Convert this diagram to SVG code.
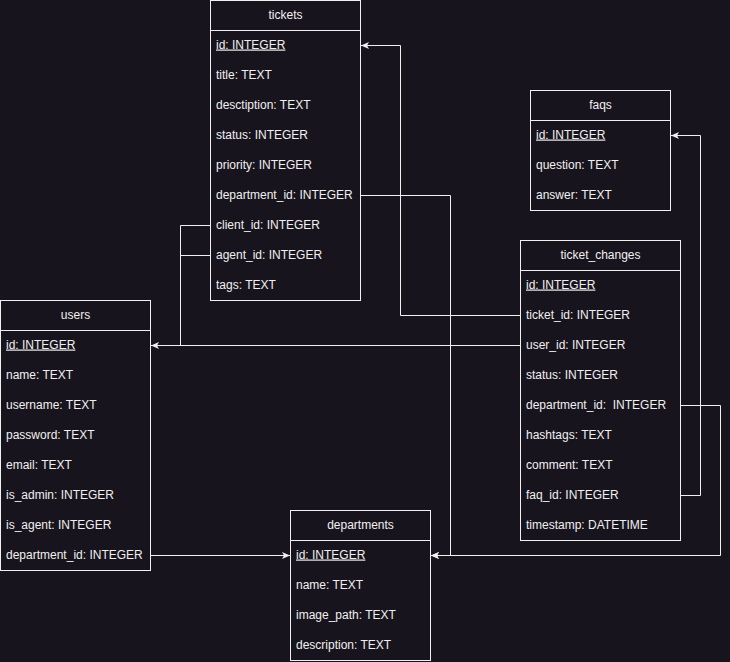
<svg xmlns="http://www.w3.org/2000/svg" width="730" height="662" viewBox="0 0 730 662">
<defs>
<style>
.box{fill:#18141d;stroke:#f0f0f0;stroke-width:1}
.sep{stroke:#f0f0f0;stroke-width:1}
.t{font-family:"Liberation Sans",Arial,sans-serif;font-size:12px;fill:#f0f0f0}
.h{text-anchor:middle}
.pk{text-decoration:underline}
.c{fill:none;stroke:#f0f0f0;stroke-width:1}
</style>
<marker id="arr" viewBox="0 0 8 8" refX="8" refY="4" markerWidth="8" markerHeight="8" markerUnits="userSpaceOnUse" orient="auto">
<path d="M0,0.5 L8,4 L0,7.5 L2,4 Z" fill="#f0f0f0"/>
</marker>
</defs>
<rect width="730" height="662" fill="#18141d"/>

<g id="connectors">
<path class="c" d="M520.5,315.5 H400.5 V45.5 H361" marker-end="url(#arr)"/>
<path class="c" d="M520.5,345.5 H151" marker-end="url(#arr)"/>
<path class="c" d="M210.5,225.5 H180.5 V345.5"/>
<path class="c" d="M210.5,255.5 H180.5"/>
<path class="c" d="M360.5,195.5 H450.5 V555.5 H431" marker-end="url(#arr)"/>
<path class="c" d="M680.5,405.5 H720.5 V555.5 H431" marker-end="url(#arr)"/>
<path class="c" d="M680.5,495.5 H700.5 V135.5 H671" marker-end="url(#arr)"/>
<path class="c" d="M150.5,555.5 H290" marker-end="url(#arr)"/>
</g>

<g id="tickets">
<rect class="box" x="210.5" y="0.5" width="150" height="300"/>
<line class="sep" x1="210.5" y1="30.5" x2="360.5" y2="30.5"/>
<text class="t h" x="285.5" y="18.5">tickets</text>
<text class="t pk" x="216" y="48.5">id: INTEGER</text>
<text class="t" x="216" y="78.5">title: TEXT</text>
<text class="t" x="216" y="108.5">desctiption: TEXT</text>
<text class="t" x="216" y="138.5">status: INTEGER</text>
<text class="t" x="216" y="168.5">priority: INTEGER</text>
<text class="t" x="216" y="198.5">department_id: INTEGER</text>
<text class="t" x="216" y="228.5">client_id: INTEGER</text>
<text class="t" x="216" y="258.5">agent_id: INTEGER</text>
<text class="t" x="216" y="288.5">tags: TEXT</text>
</g>

<g id="faqs">
<rect class="box" x="530.5" y="90.5" width="140" height="120"/>
<line class="sep" x1="530.5" y1="120.5" x2="670.5" y2="120.5"/>
<text class="t h" x="600.5" y="108.5">faqs</text>
<text class="t pk" x="536" y="138.5">id: INTEGER</text>
<text class="t" x="536" y="168.5">question: TEXT</text>
<text class="t" x="536" y="198.5">answer: TEXT</text>
</g>

<g id="ticket_changes">
<rect class="box" x="520.5" y="240.5" width="160" height="300"/>
<line class="sep" x1="520.5" y1="270.5" x2="680.5" y2="270.5"/>
<text class="t h" x="600.5" y="258.5">ticket_changes</text>
<text class="t pk" x="526" y="288.5">id: INTEGER</text>
<text class="t" x="526" y="318.5">ticket_id: INTEGER</text>
<text class="t" x="526" y="348.5">user_id: INTEGER</text>
<text class="t" x="526" y="378.5">status: INTEGER</text>
<text class="t" x="526" y="408.5" xml:space="preserve">department_id:  INTEGER</text>
<text class="t" x="526" y="438.5">hashtags: TEXT</text>
<text class="t" x="526" y="468.5">comment: TEXT</text>
<text class="t" x="526" y="498.5">faq_id: INTEGER</text>
<text class="t" x="526" y="528.5">timestamp: DATETIME</text>
</g>

<g id="users">
<rect class="box" x="0.5" y="300.5" width="150" height="270"/>
<line class="sep" x1="0.5" y1="330.5" x2="150.5" y2="330.5"/>
<text class="t h" x="75.5" y="318.5">users</text>
<text class="t pk" x="6" y="348.5">id: INTEGER</text>
<text class="t" x="6" y="378.5">name: TEXT</text>
<text class="t" x="6" y="408.5">username: TEXT</text>
<text class="t" x="6" y="438.5">password: TEXT</text>
<text class="t" x="6" y="468.5">email: TEXT</text>
<text class="t" x="6" y="498.5">is_admin: INTEGER</text>
<text class="t" x="6" y="528.5">is_agent: INTEGER</text>
<text class="t" x="6" y="558.5">department_id: INTEGER</text>
</g>

<g id="departments">
<rect class="box" x="290.5" y="510.5" width="140" height="150"/>
<line class="sep" x1="290.5" y1="540.5" x2="430.5" y2="540.5"/>
<text class="t h" x="360.5" y="528.5">departments</text>
<text class="t pk" x="296" y="558.5">id: INTEGER</text>
<text class="t" x="296" y="588.5">name: TEXT</text>
<text class="t" x="296" y="618.5">image_path: TEXT</text>
<text class="t" x="296" y="648.5">description: TEXT</text>
</g>
</svg>
